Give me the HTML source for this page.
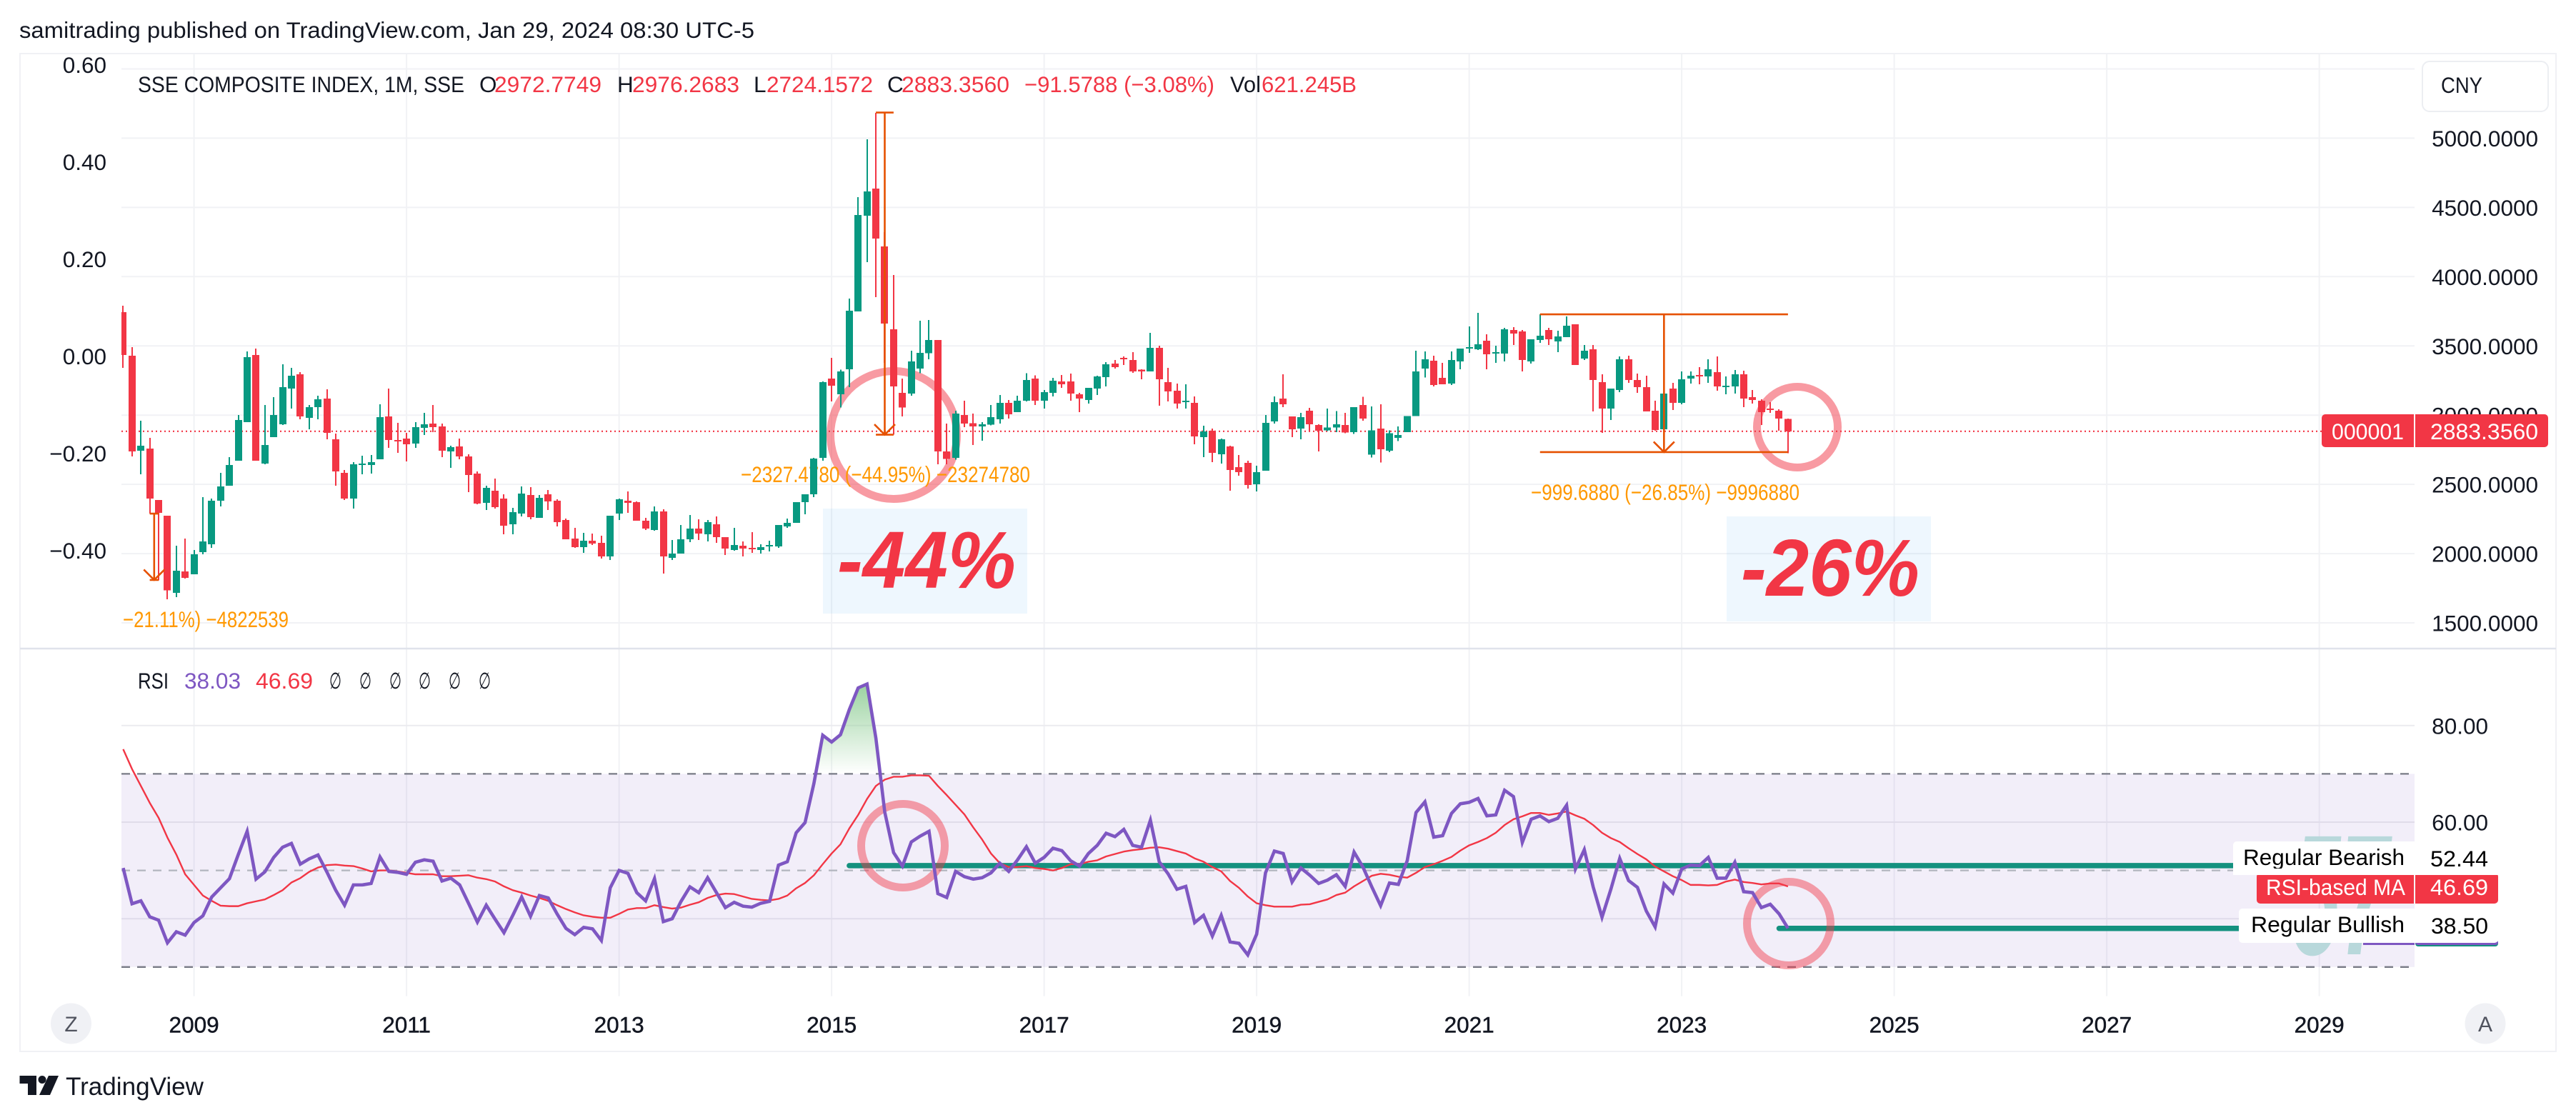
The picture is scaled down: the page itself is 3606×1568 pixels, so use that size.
<!DOCTYPE html>
<html lang="en">
<head>
<meta charset="utf-8">
<title>SSE Composite Index monthly chart</title>
<style>
html,body{margin:0;padding:0;background:#fff;width:3606px;height:1568px;overflow:hidden}
svg{display:block}
text{font-family:"Liberation Sans","DejaVu Sans",sans-serif;font-size:31.5px;fill:#131722}
.red{fill:#f23645}
.purple{fill:#7e57c2}
.orange{fill:#ff9800}
.white{fill:#fff}
.big{font-size:113px;font-weight:bold;font-style:italic;fill:#f23645}
</style>
</head>
<body>
<svg id="chart" xmlns="http://www.w3.org/2000/svg" width="3606" height="1568" viewBox="0 0 3606 1568">
<defs>
<clipPath id="main-clip"><rect x="170" y="76" width="3210" height="832"/></clipPath>
<clipPath id="rsi-clip"><rect x="170" y="910" width="3210" height="484"/></clipPath>
<clipPath id="over-clip"><rect x="170" y="910" width="3210" height="173"/></clipPath>
<linearGradient id="over-fill" gradientUnits="userSpaceOnUse" x1="0" y1="948" x2="0" y2="1083">
<stop offset="0" stop-color="#93cf99" stop-opacity="1"/>
<stop offset="1" stop-color="#93cf99" stop-opacity="0"/>
</linearGradient>
</defs>

<rect x="0" y="0" width="3606" height="1568" fill="#fff"/>
<text x="27" y="53" textLength="1029" lengthAdjust="spacingAndGlyphs">samitrading published on TradingView.com, Jan 29, 2024 08:30 UTC-5</text>

<g id="grid-layer"></g>

<rect x="1152" y="712" width="286" height="147" fill="rgba(33,150,243,.08)"/>
<rect x="2417" y="723" width="286" height="147" fill="rgba(33,150,243,.08)"/>

<g fill="none" stroke="rgba(242,54,69,.5)" stroke-width="11">
<ellipse cx="1251" cy="609" rx="88.5" ry="89.5"/>
<ellipse cx="2516" cy="598" rx="56.5" ry="56.5"/>
</g>

<g id="price-line-layer"></g>

<text class="orange" x="172" y="878" textLength="232" lengthAdjust="spacingAndGlyphs">−21.11%) −4822539</text>
<text class="orange" x="1037" y="675" textLength="405" lengthAdjust="spacingAndGlyphs">−2327.4780 (−44.95%) −23274780</text>
<text class="orange" x="2143" y="700" textLength="376" lengthAdjust="spacingAndGlyphs">−999.6880 (−26.85%) −9996880</text>

<g id="candle-layer" clip-path="url(#main-clip)" shape-rendering="crispEdges"></g>
<g id="tool-layer" fill="none" stroke="#e65100" stroke-width="2.6"></g>

<text class="big" x="1172" y="823" textLength="250" lengthAdjust="spacingAndGlyphs">-44%</text>
<text class="big" x="2437" y="834" textLength="250" lengthAdjust="spacingAndGlyphs">-26%</text>

<g>
<text x="193" y="129" textLength="457" lengthAdjust="spacingAndGlyphs">SSE COMPOSITE INDEX, 1M, SSE</text>
<text x="671" y="129">O</text>
<text class="red" x="692" y="129" textLength="150" lengthAdjust="spacingAndGlyphs">2972.7749</text>
<text x="864" y="129">H</text>
<text class="red" x="885" y="129" textLength="150" lengthAdjust="spacingAndGlyphs">2976.2683</text>
<text x="1055" y="129">L</text>
<text class="red" x="1073" y="129" textLength="149" lengthAdjust="spacingAndGlyphs">2724.1572</text>
<text x="1242" y="129">C</text>
<text class="red" x="1262" y="129" textLength="151" lengthAdjust="spacingAndGlyphs">2883.3560</text>
<text class="red" x="1434" y="129" textLength="266" lengthAdjust="spacingAndGlyphs">−91.5788 (−3.08%)</text>
<text x="1722" y="129" textLength="43" lengthAdjust="spacingAndGlyphs">Vol</text>
<text class="red" x="1766" y="129" textLength="133" lengthAdjust="spacingAndGlyphs">621.245B</text>
</g>

<rect x="3391" y="86" width="176" height="70" rx="10" fill="#fff" stroke="#eceef2" stroke-width="2"/>
<text x="3417" y="130" textLength="58" lengthAdjust="spacingAndGlyphs">CNY</text>

<g id="left-axis"></g>
<g id="right-axis"></g>

<g>
<rect x="3250" y="580" width="129" height="46" rx="5" fill="#f23645"/>
<rect x="3381" y="580" width="186" height="46" rx="5" fill="#f23645"/>
<rect x="3370" y="580" width="9" height="46" fill="#f23645"/>
<rect x="3381" y="580" width="9" height="46" fill="#f23645"/>
<text class="white" x="3264" y="615" textLength="101" lengthAdjust="spacingAndGlyphs">000001</text>
<text class="white" x="3402" y="615" textLength="151" lengthAdjust="spacingAndGlyphs">2883.3560</text>
</g>

<g id="rsi-back-layer"></g>

<g id="trend-layer"></g>

<g fill="none" stroke="rgba(242,54,69,.46)" stroke-width="11">
<ellipse cx="1264" cy="1184" rx="58.5" ry="58.5"/>
<ellipse cx="2504" cy="1293" rx="58.5" ry="58.5"/>
</g>

<text x="3208" y="1336" textLength="136" lengthAdjust="spacingAndGlyphs" style="font-size:240px;font-weight:bold;font-style:italic;fill:#b8d8db">57</text>

<g id="rsi-layer" clip-path="url(#rsi-clip)"></g>

<g>
<text x="193" y="964" textLength="43" lengthAdjust="spacingAndGlyphs">RSI</text>
<text class="purple" x="258" y="964" textLength="79" lengthAdjust="spacingAndGlyphs">38.03</text>
<text class="red" x="358" y="964" textLength="80" lengthAdjust="spacingAndGlyphs">46.69</text>
<text x="461" y="964" textLength="17" lengthAdjust="spacingAndGlyphs">∅</text>
<text x="503" y="964" textLength="17" lengthAdjust="spacingAndGlyphs">∅</text>
<text x="545" y="964" textLength="17" lengthAdjust="spacingAndGlyphs">∅</text>
<text x="586" y="964" textLength="17" lengthAdjust="spacingAndGlyphs">∅</text>
<text x="628" y="964" textLength="17" lengthAdjust="spacingAndGlyphs">∅</text>
<text x="670" y="964" textLength="17" lengthAdjust="spacingAndGlyphs">∅</text>
</g>

<g id="rsi-axis"></g>

<g>
<rect x="3308" y="1316" width="72" height="7" fill="#7e57c2"/>
<rect x="3381" y="1316" width="116" height="9" rx="4" fill="#14917f"/>
<rect x="3381" y="1316" width="116" height="7" rx="4" fill="#7e57c2"/>
<rect x="3126" y="1178" width="371" height="47" rx="5" fill="#fff"/>
<text x="3140" y="1211" textLength="226" lengthAdjust="spacingAndGlyphs" fill="#000" style="fill:#000">Regular Bearish</text>
<text x="3402" y="1213" textLength="81" lengthAdjust="spacingAndGlyphs" style="fill:#000">52.44</text>
<rect x="3134" y="1272" width="363" height="48" rx="5" fill="#fff"/>
<text x="3151" y="1305" textLength="215" lengthAdjust="spacingAndGlyphs" style="fill:#000">Regular Bullish</text>
<text x="3403" y="1307" textLength="80" lengthAdjust="spacingAndGlyphs" style="fill:#000">38.50</text>
<rect x="3159" y="1222" width="220" height="43" rx="5" fill="#f23645"/>
<rect x="3381" y="1222" width="116" height="43" rx="5" fill="#f23645"/>
<rect x="3370" y="1222" width="9" height="43" fill="#f23645"/>
<rect x="3381" y="1222" width="9" height="43" fill="#f23645"/>
<rect x="3126" y="1216" width="371" height="9" fill="#fff"/>
<text class="white" x="3172" y="1253" textLength="195" lengthAdjust="spacingAndGlyphs">RSI-based MA</text>
<text class="white" x="3402" y="1253" textLength="81" lengthAdjust="spacingAndGlyphs">46.69</text>
</g>

<g id="time-axis"></g>

<g fill="none">
<rect x="28" y="75" width="3550" height="1397" stroke="#f0f1f5" stroke-width="2"/>
<line x1="28" y1="908" x2="3578" y2="908" stroke="#e0e3eb" stroke-width="2.5"/>
</g>

<circle cx="99.5" cy="1433" r="28.5" fill="#f0f1f5"/>
<text x="99.5" y="1444" text-anchor="middle" style="fill:#50535e;font-size:30px">Z</text>
<circle cx="3479" cy="1433" r="28.5" fill="#f0f1f5"/>
<text x="3479" y="1444" text-anchor="middle" style="fill:#50535e;font-size:30px">A</text>

<g>
<g fill="#131722">
<polygon points="27.5,1506 51,1506 51,1533 39,1533 39,1517 27.5,1517"/>
<circle cx="59" cy="1511.5" r="5.5"/>
<polygon points="68,1506 82,1506 70,1533 55,1533"/>
</g>
<text x="92" y="1533" textLength="193" lengthAdjust="spacingAndGlyphs" style="font-size:35px">TradingView</text>
</g>
</svg>

<script>
const opens = [
3744,3430,2744,2759,2388,2274,1717,1872,1852,2011,
2068,2383,2491,2671,2950,3435,2651,2842,2935,3192,
3295,2981,3058,3120,2826,2584,2398,2641,2641,2682,
2991,2821,2831,2795,2909,2940,2919,2739,2775,2702,
2579,2367,2455,2398,2213,2290,2424,2259,2429,2382,
2243,2109,2047,2093,2078,1980,2289,2382,2372,2238,
2171,2305,1970,2001,2104,2181,2140,2212,2119,2026,
2057,2042,2026,2052,2052,2196,2222,2372,2429,2692,
3264,3151,3332,3750,4441,4636,4218,3619,3161,3155,
3336,3446,3542,2737,2691,3000,2943,2918,2932,2969,
3089,3021,3104,3264,3104,3161,3243,3243,3151,3109,
3192,3274,3372,3414,3398,3328,3316,3486,3238,3176,
3094,3089,2841,2888,2718,2774,2625,2656,2501,2599,
2955,3120,2991,2903,3032,2929,2890,2911,2929,2877,
3074,2716,2903,2743,2835,2877,2993,3335,3393,3269,
3228,3388,3481,3476,3537,3445,3445,3615,3605,3388,
3543,3615,3532,3563,3656,3409,3476,3238,3048,3182,
3403,3254,3202,3032,2898,3192,3089,3264,3290,3280,
3310,3202,3207,3295,3130,3104,3047,3032,2972.77];
const highs = [
3789,3491,2960,2836,2388,2274,2058,2109,2027,2408,
2398,2584,2697,3002,3461,3481,3074,3131,3368,3342,
3311,3074,3141,3187,2867,2604,2661,2708,2713,3079,
3192,2945,2873,2950,3017,3074,2940,2780,2831,2718,
2594,2491,2543,2429,2331,2486,2481,2423,2460,2393,
2253,2186,2150,2145,2130,2274,2398,2449,2377,2259,
2341,2320,2099,2207,2279,2248,2243,2269,2119,2186,
2088,2155,2068,2093,2207,2253,2372,2429,2692,3243,
3414,3328,3842,4574,4992,5183,4321,4012,3264,3465,
3682,3688,3542,2940,3032,3104,3012,2949,3072,3146,
3109,3140,3304,3286,3182,3269,3290,3300,3161,3197,
3285,3383,3398,3424,3455,3331,3594,3501,3341,3228,
3223,3135,2924,2903,2831,2779,2712,2671,2635,3001,
3135,3295,2991,3017,3053,2934,3048,3030,3016,3058,
3132,3064,3079,2890,2919,2993,3466,3461,3429,3377,
3460,3481,3641,3739,3584,3501,3630,3635,3615,3548,
3728,3630,3610,3713,3656,3506,3507,3295,3192,3424,
3429,3300,3285,3104,3156,3233,3316,3316,3347,3403,
3424,3280,3326,3321,3181,3115,3094,3042,2976.27];
const lows = [
3342,2703,2574,2290,1808,1671,1687,1821,1852,1996,
2042,2341,2491,2671,2950,2671,2646,2842,2929,3048,
2971,2898,2971,2826,2491,2388,2326,2574,2579,2682,
2764,2728,2666,2764,2857,2878,2697,2620,2682,2445,
2357,2316,2326,2140,2140,2269,2249,2259,2315,2197,
2104,2042,2006,2062,1965,1954,2243,2295,2238,2171,
2166,1856,1954,2001,2083,2099,2088,2078,1990,2021,
1980,2006,2001,2016,2042,2186,2222,2284,2408,2671,
3099,3054,3203,3750,4104,3853,3378,2859,2991,3140,
3304,3404,2645,2645,2678,2914,2785,2815,2927,2940,
2975,3021,3098,3074,3048,3135,3197,3104,3022,3084,
3146,3207,3336,3362,3305,3259,3316,3068,3099,3048,
3048,2790,2697,2661,2650,2454,2563,2470,2449,2599,
2939,3058,2841,2826,2882,2738,2885,2877,2869,2864,
2961,2695,2658,2732,2814,2877,2993,3272,3207,3223,
3218,3331,3450,3470,3331,3378,3388,3506,3316,3372,
3522,3506,3455,3563,3362,3398,3027,2872,2965,3166,
3233,3161,3027,2888,2888,3037,3078,3228,3223,3233,
3176,3151,3156,3058,3084,2929,3017,2888,2724.16];
const closes = [
3435,2739,2780,2398,2295,1735,1877,1826,1996,2089,
2383,2486,2641,2965,3419,2671,2785,3002,3203,3285,
2991,3058,3115,2873,2594,2398,2646,2651,2661,2986,
2821,2811,2790,2914,2935,2914,2744,2769,2702,2568,
2362,2476,2336,2202,2300,2434,2264,2403,2377,2228,
2104,2047,2093,2073,1980,2274,2393,2367,2238,2181,
2305,1980,2001,2104,2181,2145,2228,2119,2037,2062,
2037,2032,2047,2062,2207,2222,2372,2429,2687,3238,
3213,3315,3754,4445,4616,4275,3662,3207,3054,3387,
3450,3542,2737,2685,3012,2940,2918,2934,2986,3089,
3006,3104,3253,3104,3166,3249,3223,3156,3120,3197,
3280,3367,3347,3403,3316,3316,3486,3259,3171,3084,
3104,2846,2883,2728,2826,2604,2588,2496,2589,2944,
3094,3078,2898,2986,2934,2888,2911,2935,2874,3058,
2974,2890,2753,2869,2856,2993,3316,3403,3218,3223,
3398,3481,3491,3512,3439,3455,3620,3589,3398,3548,
3574,3548,3568,3646,3362,3465,3254,3048,3192,3403,
3254,3202,3027,2893,3156,3089,3259,3285,3280,3331,
3207,3213,3295,3120,3109,3022,3037,2975,2883.36];
const rsiValues = [
50.5,43.1,43.7,40.4,39.7,35.0,37.3,36.6,39.2,40.6,
44.5,46.4,48.3,53.3,58.1,48.2,49.7,52.7,54.8,55.6,
51.3,52.4,53.2,49.7,45.9,42.8,47.0,47.0,47.3,52.8,
49.8,49.6,49.2,51.7,52.2,51.9,47.8,48.4,47.0,43.2,
39.3,42.8,39.9,37.1,40.7,44.5,40.5,44.8,44.3,41.0,
38.0,36.7,38.2,37.9,35.5,46.4,50.0,49.4,45.4,43.7,
48.3,39.4,40.0,43.6,46.6,45.4,48.5,45.4,42.3,43.4,
42.6,42.4,43.2,43.6,51.1,51.8,57.8,59.9,68.0,78.0,
76.6,78.1,83.3,87.8,88.6,77.4,62.1,53.7,50.9,55.9,
57.1,58.1,45.2,44.4,49.8,48.7,48.2,48.5,49.5,51.5,
49.8,52.2,54.9,51.5,52.7,54.6,54.1,52.0,50.9,53.5,
55.2,57.7,57.0,58.5,55.2,54.8,60.4,51.8,49.3,46.1,
46.7,39.2,40.7,36.4,40.7,35.2,34.9,32.5,36.8,49.5,
54.0,53.5,47.6,50.5,49.0,47.3,48.0,49.1,46.7,53.8,
50.7,46.6,42.7,47.4,47.1,52.0,62.0,64.2,56.9,57.2,
61.8,63.8,64.1,64.9,61.3,61.5,66.6,65.3,55.8,60.6,
61.3,60.1,60.8,63.5,50.3,54.3,46.6,40.3,46.1,52.5,
47.9,46.5,41.6,38.3,47.2,45.3,50.3,51.1,51.0,52.7,
48.4,48.4,51.7,45.6,45.4,42.3,43.0,41.0,38.03];
const rsiMaValues = [
75.1,71.0,67.5,64.0,60.9,56.8,53.3,49.2,47.0,44.8,
43.7,42.7,42.6,42.6,43.2,43.6,44.0,44.9,45.9,47.5,
48.4,49.7,50.6,51.1,51.2,51.0,50.9,50.4,49.8,50.0,
50.0,49.8,49.5,49.2,49.2,49.2,48.8,48.8,48.9,49.0,
48.5,48.2,47.7,46.7,45.9,45.4,44.8,44.3,43.7,42.8,
42.0,41.3,40.7,40.4,40.2,40.2,41.0,41.9,42.2,42.2,
42.8,42.4,42.1,42.3,42.9,43.4,44.3,44.9,45.2,45.1,
44.6,44.1,43.9,43.8,44.1,44.8,46.3,47.4,49.0,51.3,
53.5,55.4,58.7,61.5,64.8,67.5,68.8,69.4,69.4,69.7,
69.7,69.6,67.5,65.6,63.6,61.6,58.9,56.4,53.5,51.5,
50.7,50.7,50.9,50.5,50.3,50.0,50.5,51.3,51.3,51.8,
52.1,52.9,53.4,53.9,54.2,54.4,54.7,54.8,54.5,54.0,
53.5,52.5,51.8,50.7,49.8,47.8,46.4,44.6,43.2,42.8,
42.5,42.5,42.5,42.9,43.0,43.5,44.0,44.9,45.4,46.7,
47.8,48.9,49.3,49.1,48.7,48.5,49.5,50.7,51.3,52.0,
52.8,54.1,55.2,55.9,56.7,57.8,59.4,60.6,61.2,61.9,
61.9,61.5,61.8,62.2,61.4,60.7,59.4,57.8,56.7,55.9,
54.6,53.4,52.3,50.8,49.8,48.8,48.0,47.0,47.0,46.9,
47.0,47.7,48.1,47.6,47.4,47.1,47.3,47.3,46.69];
const priceGridLevels = [5500,5000,4500,4000,3500,3000,2500,2000,1500];
const priceTickLabels = ['5000.0000','4500.0000','4000.0000','3500.0000','3000.0000','2500.0000','2000.0000','1500.0000'];
const percentTicks = [0.6,0.4,0.2,0,-0.2,-0.4];
const percentTickLabels = ['0.60','0.40','0.20','0.00','−0.20','−0.40'];
const rsiGridLevels = [80,60,40];
const rsiTicks = [80,60];
const rsiTickLabels = ['80.00','60.00'];
const rsiBandLevels = [70,50,30];
const yearLabels = ['2009','2011','2013','2015','2017','2019','2021','2023','2025','2027','2029'];
const yearMonthIndexes = [8,32,56,80,104,128,152,176,200,224,248];
const lastPrice = 2883.356;
const rangeToolStartIndex = [3,85,160];
const rangeToolEndIndex = [4,87,188];
const rangeToolHighPrice = [2289,5185,3728];
const rangeToolLowPrice = [1810,2859,2733];
const bearishTrendStart = 82;
const bearishTrendLevel = 51;
const bullishTrendStart = 187;
const bullishTrendLevel = 38;
const plotLeft = 170;
const plotRight = 3380;

const NS = 'http://www.w3.org/2000/svg';
function monthX(i){ return 271.6 + (i - 8) * 12.396; }
function priceY(p){ return 193.4 + (5000 - p) * 0.1939; }
function percentY(v){ return 499 - v * 680; }
function rsiY(v){ return 1015.8 + (80 - v) * 6.76; }
function make(tag, parent, props){
  const node = document.createElementNS(NS, tag);
  for (const k in props) node.setAttribute(k, props[k]);
  parent.appendChild(node);
  return node;
}
const gridLayer = document.getElementById('grid-layer');
yearMonthIndexes.forEach(function(i){
  const ln = make('line', gridLayer, {x1:monthX(i), x2:monthX(i), y1:76, y2:1394.6, stroke:'#f1f2f5', 'stroke-width':2});
  
  
});
priceGridLevels.forEach(function(p){
  const ln = make('line', gridLayer, {x1:plotLeft, x2:plotRight, y1:priceY(p), y2:priceY(p), stroke:'#f1f2f5', 'stroke-width':2});
  
  
});
rsiGridLevels.forEach(function(v){
  const ln = make('line', gridLayer, {x1:plotLeft, x2:plotRight, y1:rsiY(v), y2:rsiY(v), stroke:'#ebebef', 'stroke-width':2});
  
  
});

const priceLine = make('line', document.getElementById('price-line-layer'), {x1:plotLeft, x2:3250, y1:priceY(lastPrice), y2:priceY(lastPrice), stroke:'#f23645', 'stroke-width':2.2, 'stroke-dasharray':'2 4'});



const candleLayer = document.getElementById('candle-layer');
opens.forEach(function(o, i){
  const c = closes[i];
  const color = c >= o ? '#089981' : '#f23645';
  const cx = Math.round(monthX(i));
  const g = make('g', candleLayer, {fill:color});
  
  
  const wick = make('rect', g, {x:cx - 1, width:2, y:priceY(highs[i]), height:Math.max(priceY(lows[i]) - priceY(highs[i]), 1)});
  
  
  const top = priceY(Math.max(o, c));
  const bodyHeight = Math.max(Math.abs(priceY(o) - priceY(c)), 2);
  const body = make('rect', g, {x:cx - 5, width:10, y:top, height:bodyHeight});
  
  
});

const toolLayer = document.getElementById('tool-layer');
rangeToolStartIndex.forEach(function(s, k){
  const x1 = monthX(s);
  const x2 = monthX(rangeToolEndIndex[k]);
  const mid = (x1 + x2) / 2;
  const hi = priceY(rangeToolHighPrice[k]);
  const lo = priceY(rangeToolLowPrice[k]);
  const path = make('path', toolLayer, {d:'M' + x1 + ' ' + hi + 'H' + x2 + 'M' + x1 + ' ' + lo + 'H' + x2 + 'M' + mid + ' ' + hi + 'V' + lo + 'M' + (mid - 14.5) + ' ' + (lo - 14.5) + 'L' + mid + ' ' + lo + 'L' + (mid + 14.5) + ' ' + (lo - 14.5)});
  
  
});

const leftAxis = document.getElementById('left-axis');
percentTicks.forEach(function(v, i){
  const t = make('text', leftAxis, {x:149, y:percentY(v) + 11, 'text-anchor':'end'});
  t.textContent = percentTickLabels[i];
  
  
});
const rightAxis = document.getElementById('right-axis');
priceTickLabels.forEach(function(label){
  const t = make('text', rightAxis, {x:3553, y:priceY(parseFloat(label)) + 11.5, 'text-anchor':'end'});
  t.textContent = label;
  
  
});

const backLayer = document.getElementById('rsi-back-layer');
const band = make('rect', backLayer, {x:plotLeft, width:plotRight - plotLeft, y:rsiY(rsiBandLevels[0]), height:rsiY(rsiBandLevels[2]) - rsiY(rsiBandLevels[0]), fill:'rgba(126,87,194,.1)'});


rsiBandLevels.forEach(function(v){
  const ln = make('line', backLayer, {x1:plotLeft, x2:plotRight, y1:rsiY(v), y2:rsiY(v), stroke:v === 50 ? '#b2b5be' : '#787b86', 'stroke-width':2.3, 'stroke-dasharray':'12 10'});
  
  
});

const trendLayer = document.getElementById('trend-layer');
const bearishLine = make('line', trendLayer, {x1:monthX(bearishTrendStart), x2:plotRight, y1:rsiY(bearishTrendLevel), y2:rsiY(bearishTrendLevel), stroke:'#14917f', 'stroke-width':7.5, 'stroke-linecap':'round'});


const bullishLine = make('line', trendLayer, {x1:monthX(bullishTrendStart), x2:plotRight, y1:rsiY(bullishTrendLevel), y2:rsiY(bullishTrendLevel), stroke:'#14917f', 'stroke-width':7.5, 'stroke-linecap':'round'});



const rsiLayer = document.getElementById('rsi-layer');
const rsiPoints = rsiValues.map(function(v, i){ return monthX(i) + ',' + rsiY(v); });
const maPoints = rsiMaValues.map(function(v, i){ return monthX(i) + ',' + rsiY(v); });
const baseY = rsiY(rsiBandLevels[0]);
const overGroup = make('g', rsiLayer, {'clip-path':'url(#over-clip)'});


const overFill = make('polygon', overGroup, {points:monthX(0) + ',' + baseY + ' ' + rsiPoints.join(' ') + ' ' + monthX(rsiValues.length - 1) + ',' + baseY, fill:'url(#over-fill)'});


const maLine = make('polyline', rsiLayer, {points:maPoints.join(' '), fill:'none', stroke:'#f23645', 'stroke-width':2.4, 'stroke-linejoin':'round'});


const rsiLine = make('polyline', rsiLayer, {points:rsiPoints.join(' '), fill:'none', stroke:'#7e57c2', 'stroke-width':4.6, 'stroke-linejoin':'miter'});



const rsiAxis = document.getElementById('rsi-axis');
rsiTicks.forEach(function(v, i){
  const t = make('text', rsiAxis, {x:3483, y:rsiY(v) + 11.5, 'text-anchor':'end'});
  t.textContent = rsiTickLabels[i];
  
  
});

const timeAxis = document.getElementById('time-axis');
yearLabels.forEach(function(label, i){
  const t = make('text', timeAxis, {x:monthX(yearMonthIndexes[i]), y:1445.5, 'text-anchor':'middle', stroke:'#131722', 'stroke-width':0.5});
  t.textContent = label;
  
  
});
</script>
</body>
</html>
